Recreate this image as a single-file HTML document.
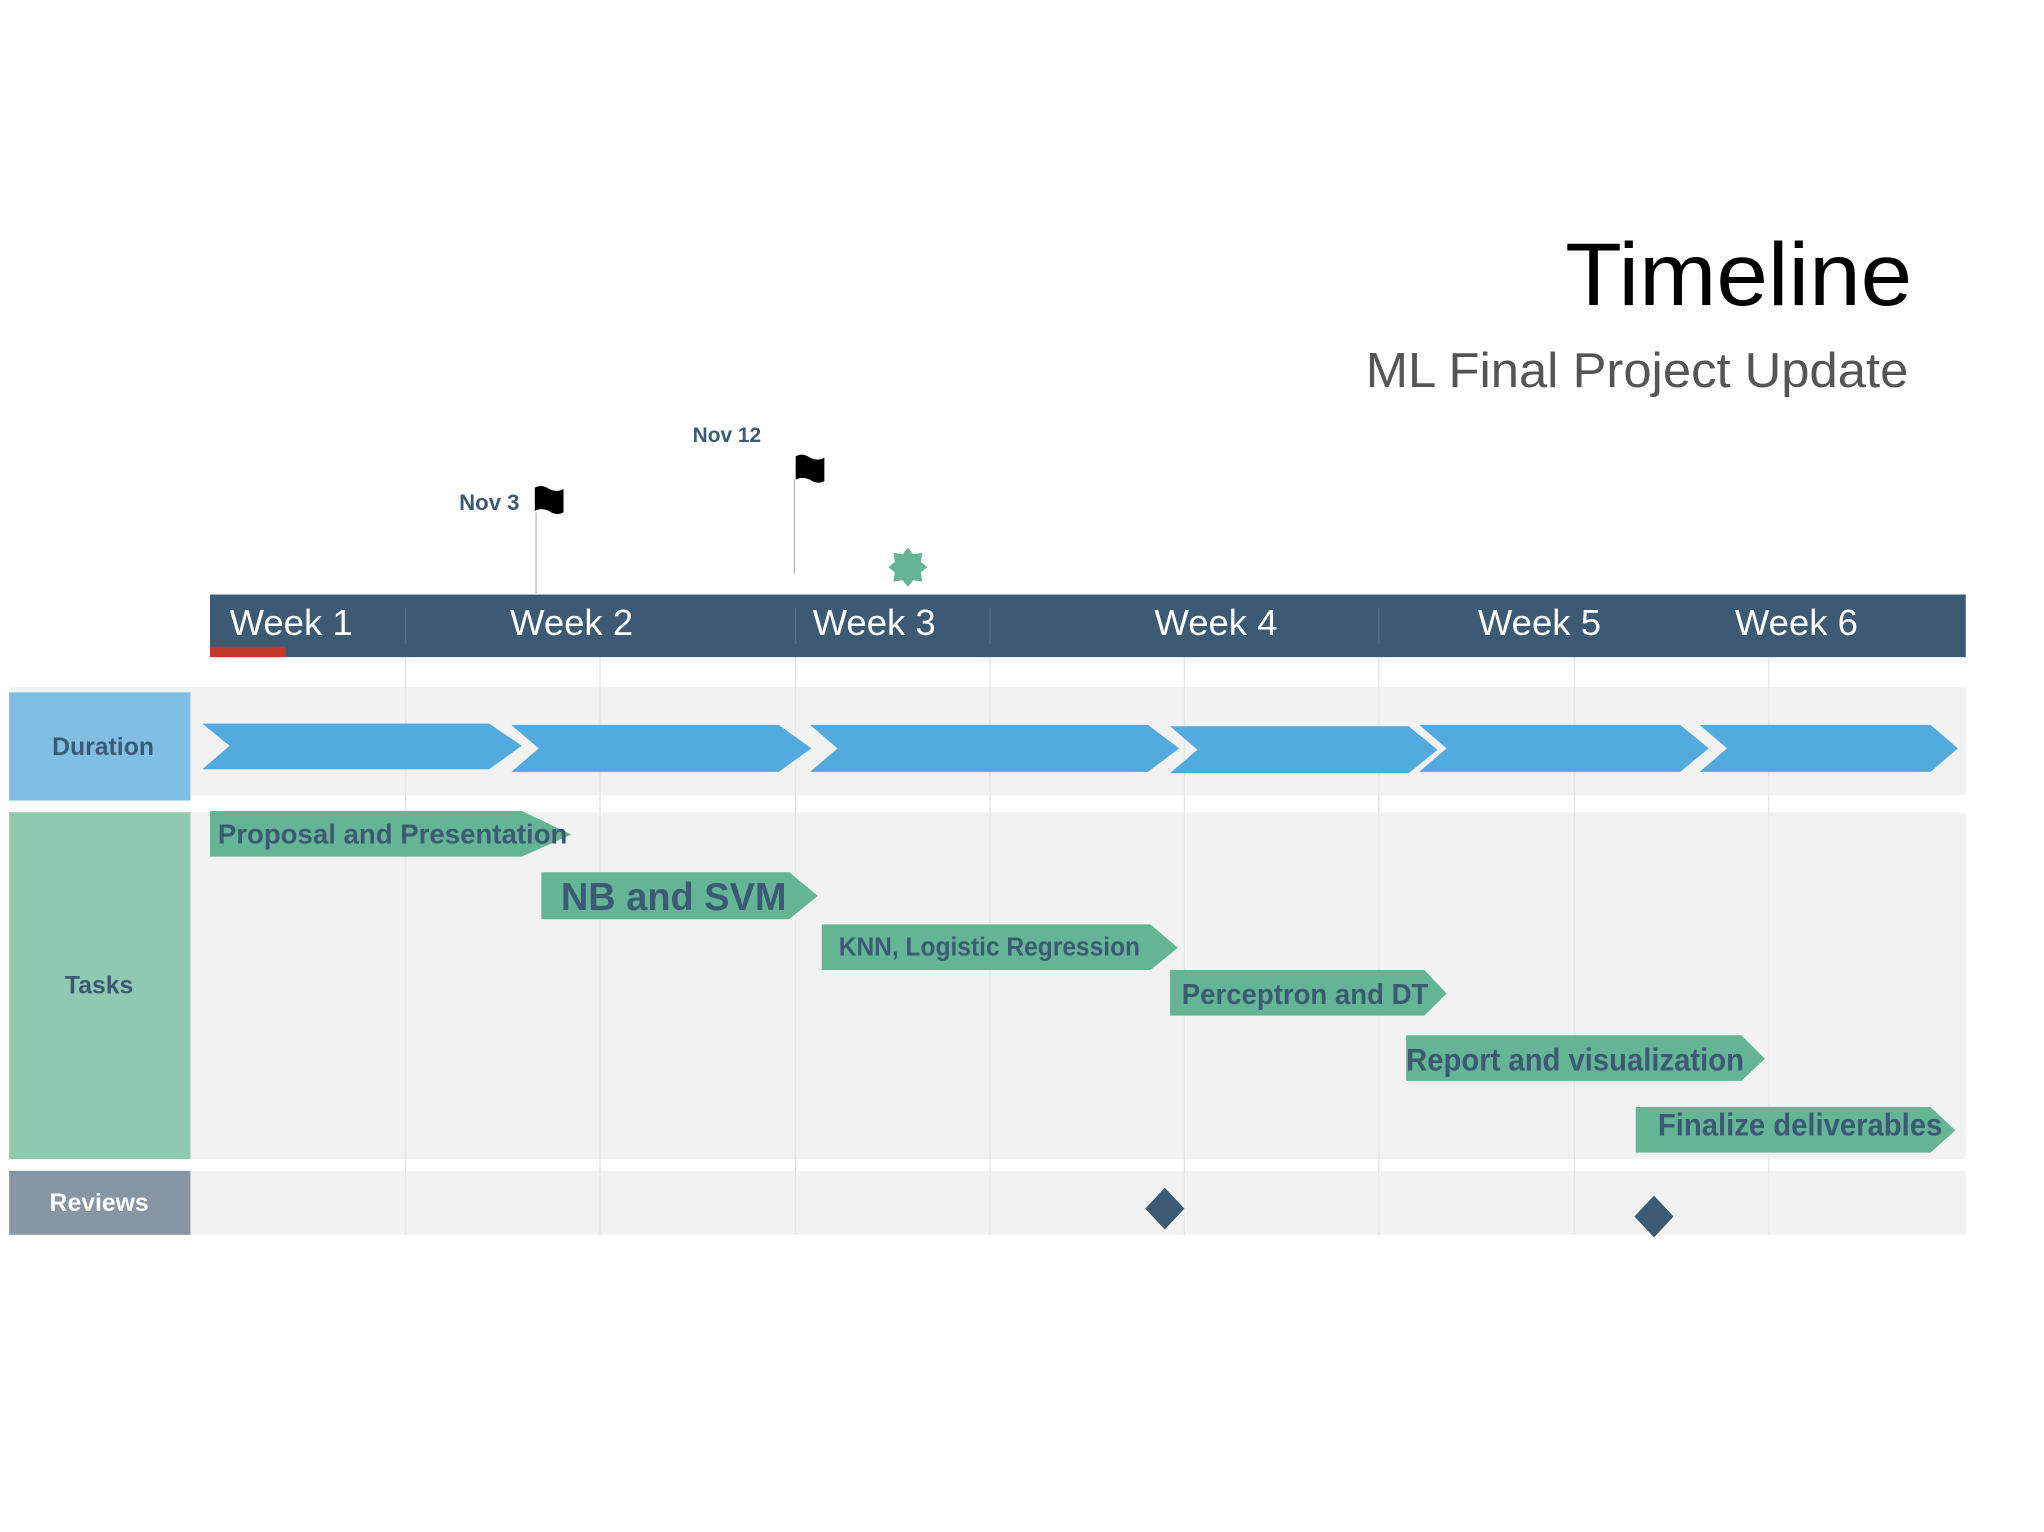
<!DOCTYPE html>
<html><head><meta charset="utf-8"><style>
html,body{margin:0;padding:0;background:#fff;}
svg{display:block;}
text{font-family:"Liberation Sans","DejaVu Sans",sans-serif;}
</style></head><body>
<svg width="2044" height="1532" viewBox="0 0 1567 1175" preserveAspectRatio="none" xmlns="http://www.w3.org/2000/svg">
<rect width="1567" height="1175" fill="#fff"/>
<text x="1466" y="234" font-size="68" text-anchor="end" fill="#000" textLength="266" lengthAdjust="spacingAndGlyphs">Timeline</text>
<text x="1463" y="297" font-size="38" text-anchor="end" fill="#555" textLength="416" lengthAdjust="spacingAndGlyphs">ML Final Project Update</text>

<rect x="8" y="527" width="1499" height="83" fill="#f2f2f2"/>
<rect x="8" y="623" width="1499" height="266" fill="#f2f2f2"/>
<rect x="8" y="898" width="1499" height="49" fill="#f2f2f2"/>
<g stroke="#e6e6e6" stroke-width="1">
<line x1="311" y1="504" x2="311" y2="947"/><line x1="460" y1="504" x2="460" y2="947"/>
<line x1="610" y1="504" x2="610" y2="947"/><line x1="759" y1="504" x2="759" y2="947"/>
<line x1="908" y1="504" x2="908" y2="947"/><line x1="1057" y1="504" x2="1057" y2="947"/>
<line x1="1207" y1="504" x2="1207" y2="947"/><line x1="1356" y1="504" x2="1356" y2="947"/>
</g>

<rect x="161" y="456" width="1346" height="48" fill="#3d5a75"/>
<rect x="161" y="496" width="58" height="8" fill="#c0392b"/>
<g stroke="#56708a" stroke-width="1">
<line x1="311" y1="466" x2="311" y2="494"/><line x1="610" y1="466" x2="610" y2="494"/>
<line x1="759" y1="466" x2="759" y2="494"/><line x1="1057" y1="466" x2="1057" y2="494"/>
</g>
<g fill="#fff" font-size="28">
<text x="176" y="487">Week 1</text><text x="391" y="487">Week 2</text><text x="623" y="487">Week 3</text>
<text x="885" y="487">Week 4</text><text x="1133" y="487">Week 5</text><text x="1330" y="487">Week 6</text>
</g>

<line x1="411" y1="393" x2="411" y2="455" stroke="#bbb" stroke-width="1"/>
<line x1="609" y1="368" x2="609" y2="440" stroke="#bbb" stroke-width="1"/>
<path d="M410 374 q5 -3 11 1 q6 3 11 0 v18 q-5 3 -11 -1 q-6 -3 -11 0z" fill="#000"/>
<path d="M610 350 q5 -3 11 1 q6 3 11 0 v18 q-5 3 -11 -1 q-6 -3 -11 0z" fill="#000"/>
<text x="352" y="391" font-size="17" font-weight="bold" fill="#3d5a75">Nov 3</text>
<text x="531" y="339" font-size="16" font-weight="bold" fill="#3d5a75">Nov 12</text>
<polygon points="696,420 700,425 707,424 706,431 711,435 706,439 707,446 700,445 696,450 692,445 685,446 686,439 681,435 686,431 685,424 692,425" fill="#64b596"/>

<rect x="7" y="531" width="139" height="83" fill="#7fbfe4"/>
<rect x="7" y="623" width="139" height="266" fill="#8fc9b2"/>
<rect x="7" y="898" width="139" height="49" fill="#8696a5"/>
<text x="79" y="579" font-size="19" font-weight="bold" fill="#3d5a75" text-anchor="middle">Duration</text>
<text x="76" y="762" font-size="19" font-weight="bold" fill="#3d5a75" text-anchor="middle">Tasks</text>
<text x="76" y="929" font-size="19" font-weight="bold" fill="#fff" text-anchor="middle">Reviews</text>

<g fill="#52aade">
<polygon points="155,555 375,555 400,572 375,590 155,590 176,572"/>
<polygon points="392,556 597,556 622,574 597,592 392,592 413,574"/>
<polygon points="621,556 880,556 904,574 880,592 621,592 642,574"/>
<polygon points="897,557 1080,557 1102,575 1080,593 897,593 918,575"/>
<polygon points="1088,556 1288,556 1310,574 1288,592 1088,592 1109,574"/>
<polygon points="1303,556 1480,556 1501,574 1480,592 1303,592 1324,574"/>
</g>

<g fill="#64b596">
<polygon points="161,622 400,622 438,640 400,657 161,657"/>
<polygon points="415,669 605,669 627,687 605,705 415,705"/>
<polygon points="630,709 882,709 903,727 882,744 630,744"/>
<polygon points="897,744 1092,744 1109,762 1092,779 897,779"/>
<polygon points="1078,794 1335,794 1353,812 1335,829 1078,829"/>
<polygon points="1254,849 1480,849 1499,867 1480,884 1254,884"/>
</g>
<g fill="#3d5a75" font-weight="bold">
<text x="167" y="647" font-size="21" textLength="268" lengthAdjust="spacingAndGlyphs">Proposal and Presentation</text>
<text x="430" y="698" font-size="30" textLength="173" lengthAdjust="spacingAndGlyphs">NB and SVM</text>
<text x="643" y="733" font-size="20" textLength="231" lengthAdjust="spacingAndGlyphs">KNN, Logistic Regression</text>
<text x="906" y="770" font-size="22" textLength="189" lengthAdjust="spacingAndGlyphs">Perceptron and DT</text>
<text x="1078" y="821" font-size="24" textLength="259" lengthAdjust="spacingAndGlyphs">Report and visualization</text>
<text x="1271" y="871" font-size="24" textLength="218" lengthAdjust="spacingAndGlyphs">Finalize deliverables</text>
</g>

<polygon points="893,911 908,927 893,943 878,927" fill="#3d5a75"/>
<polygon points="1268,917 1283,933 1268,949 1253,933" fill="#3d5a75"/>
</svg>
</body></html>
